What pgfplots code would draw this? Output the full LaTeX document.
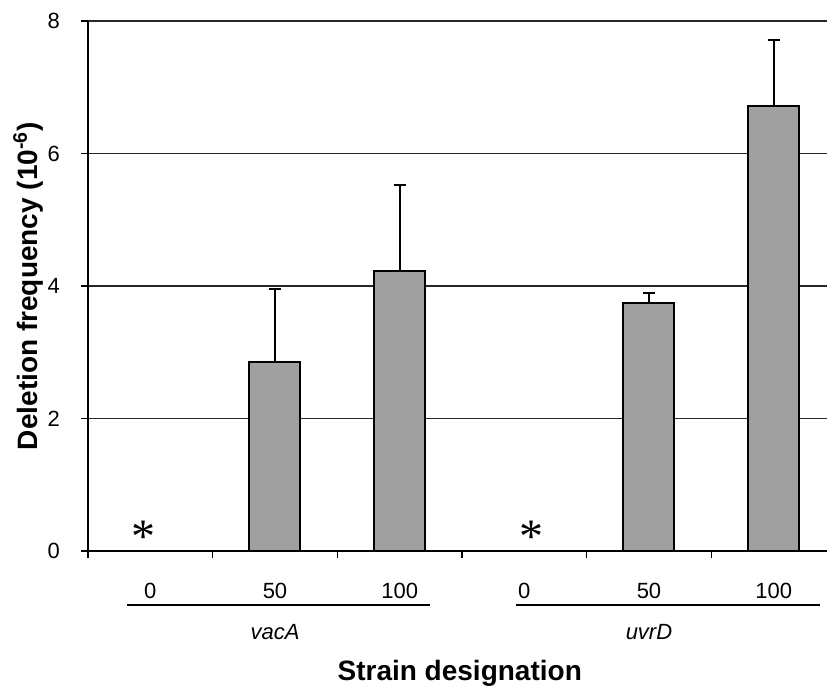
\documentclass[border=0pt]{standalone}
\usepackage{fontspec}
\setmainfont{Liberation Sans}
\newfontfamily\starfont{Liberation Serif}
\usepackage{pgfplots}
\pgfplotsset{compat=1.18}
\definecolor{barfill}{HTML}{A0A0A0}

\begin{document}
\begin{tikzpicture}
% fixed page: 1px of the reference = 0.5pt
\useasboundingbox (0,0) rectangle (413.5pt,344pt);
\begin{axis}[
  at={(44pt,68.5pt)}, anchor=south west,
  scale only axis, width=374pt, height=265pt,
  xmin=-0.5, xmax=5.5, ymin=0, ymax=8,
  axis x line*=bottom, axis y line*=left,
  axis line style={line width=0.8pt, black},
  ytick={0,2,4,6,8},
  ymajorgrids, major grid style={line width=0.6pt, black!85},
  xtick={0,...,5},
  xticklabels={0,50,100,0,50,100},
  major x tick style={draw=none},
  minor xtick={-0.5,0.5,...,5.5},
  minor x tick style={line width=0.6pt, black},
  major y tick style={line width=0.6pt, black},
  tick align=outside,
  major tick length=3.5pt, minor tick length=3.5pt,
  /pgf/number format/assume math mode=true,
  ticklabel style={font=\fontsize{11}{13}\selectfont},
  xticklabel style={yshift=-9pt},
  yticklabel style={xshift=-7pt},
  ylabel={Deletion frequency (10\textsuperscript{-6})},
  ylabel style={font=\bfseries\fontsize{14}{16}\selectfont, at={(axis description cs:-0.08,0.5)}, anchor=center},
  xlabel={Strain designation},
  xlabel style={font=\bfseries\fontsize{14}{16}\selectfont, at={(axis description cs:0.497,-0.23)}, anchor=center},
  clip=false,
]
\addplot[ybar, bar width=25.5pt, fill=barfill, draw=black, line width=1pt,
  error bars/.cd, y dir=plus, y explicit,
  error bar style={line width=1pt, black},
  error mark options={rotate=90, mark size=3pt, line width=1pt, black}]
  coordinates {(1,2.86) +- (0,1.10) (2,4.22) +- (0,1.30) (4,3.75) +- (0,0.15) (5,6.72) +- (0,1.00)};

% zero frequency markers
\node[font=\starfont\fontsize{24}{24}\selectfont, anchor=center] at ([xshift=-3.5pt,yshift=7pt]axis cs:0,0) {*};
\node[font=\starfont\fontsize{24}{24}\selectfont, anchor=center] at ([xshift=3.5pt,yshift=7pt]axis cs:3,0) {*};

% group brackets
\draw[line width=1pt] ([yshift=-27pt]axis cs:-0.185,0) -- ([yshift=-27pt]axis cs:2.24,0);
\draw[line width=1pt] ([yshift=-27pt]axis cs:2.93,0) -- ([yshift=-27pt]axis cs:5.37,0);
\node[font=\itshape\fontsize{11}{13}\selectfont] at ([yshift=-40.5pt]axis cs:1,0) {vacA};
\node[font=\itshape\fontsize{11}{13}\selectfont] at ([yshift=-40.5pt]axis cs:4,0) {uvrD};
\end{axis}
\end{tikzpicture}
\end{document}
